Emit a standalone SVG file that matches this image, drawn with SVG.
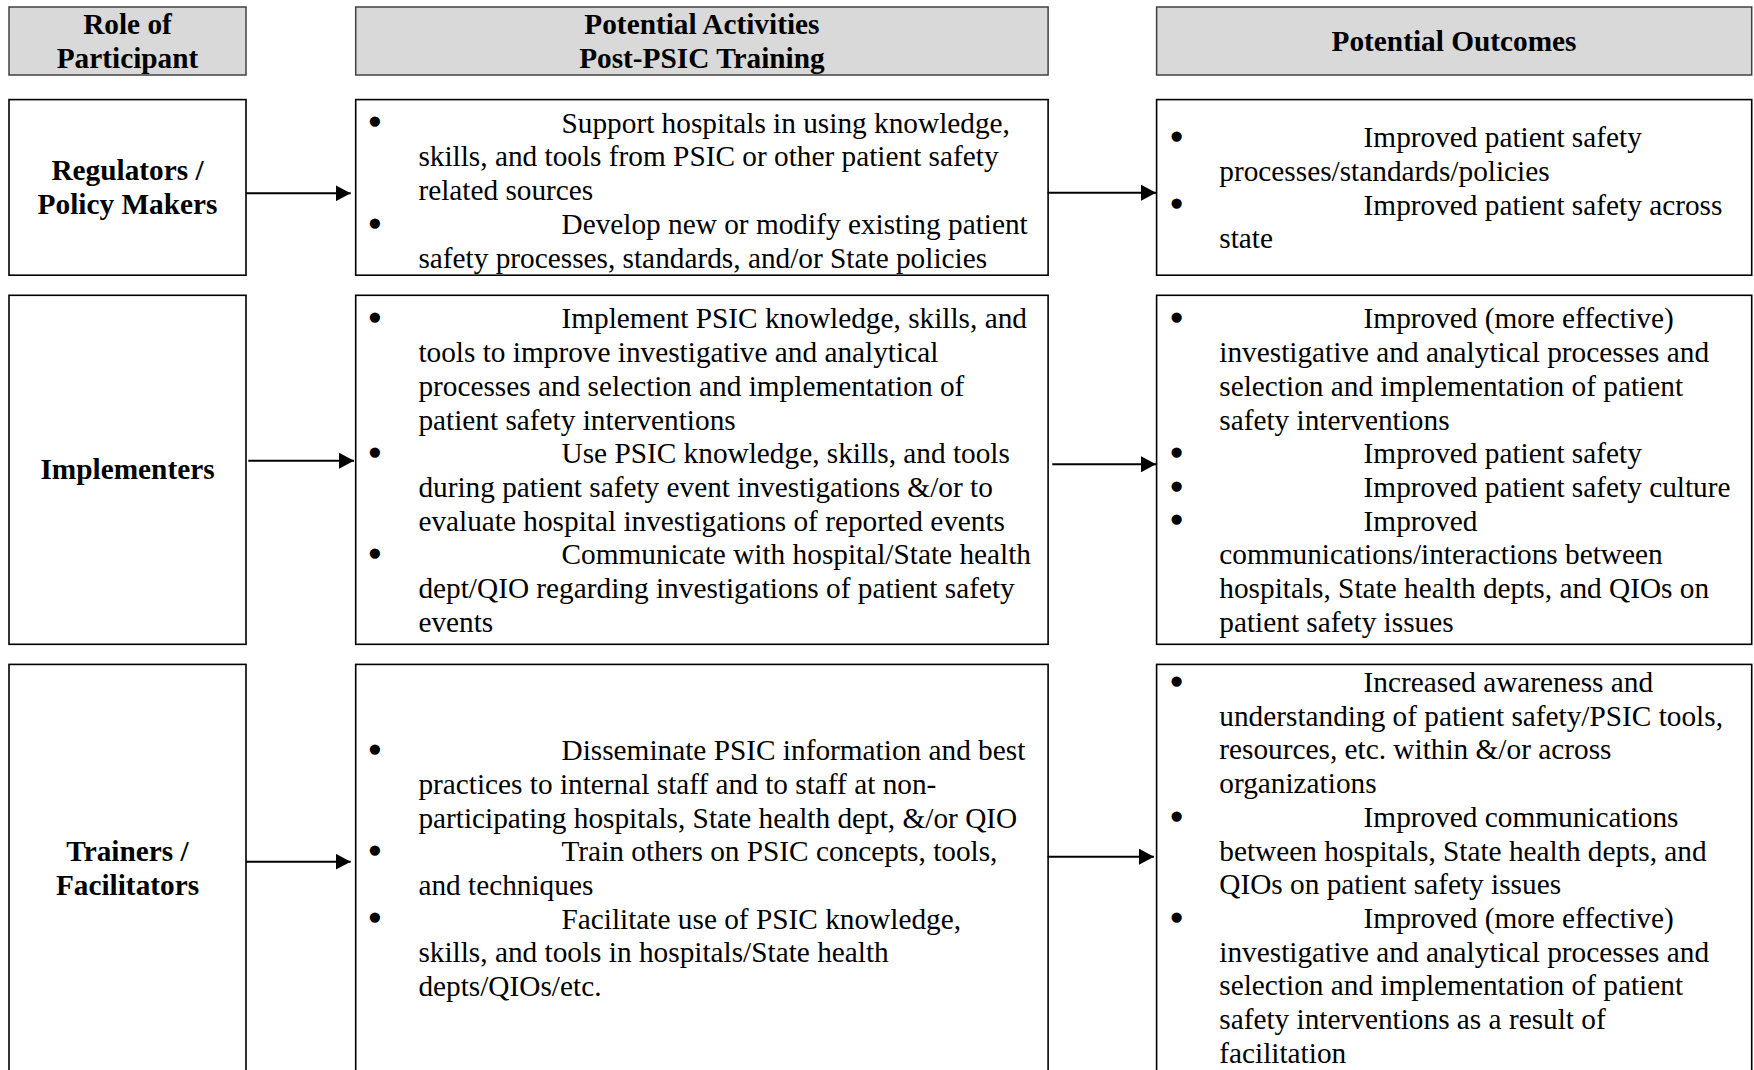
<svg xmlns="http://www.w3.org/2000/svg" width="1754" height="1070" viewBox="0 0 1754 1070">
<style>
.hdr{fill:#d9d9d9;stroke:#404040;stroke-width:1.5}
.box{fill:#fff;stroke:#000;stroke-width:1.6}
text{font-family:"Liberation Serif","Times New Roman",serif;font-size:29.3px;fill:#000}
.b{font-weight:bold}
.c{text-anchor:middle}
.bul{text-anchor:middle;stroke:#000;stroke-width:3.2;stroke-linejoin:round}
.ln{stroke:#000;stroke-width:2;fill:none}
</style>
<defs>
<marker id="ah" viewBox="0 0 15 16" refX="15" refY="8" markerWidth="15" markerHeight="16" markerUnits="userSpaceOnUse" orient="auto">
<path d="M0,0 L15,8 L0,16 z" fill="#000"/>
</marker>
</defs>
<rect width="1754" height="1070" fill="#fff"/>

<g id="header-role">
<rect class="hdr" x="9" y="7" width="237" height="68"/>
<text class="b c" x="127.5" y="34.3">Role of</text>
<text class="b c" x="127.5" y="68">Participant</text>
</g>
<g id="header-activities">
<rect class="hdr" x="355.7" y="7" width="692.4" height="68"/>
<text class="b c" x="701.9" y="34.3">Potential Activities</text>
<text class="b c" x="701.9" y="68">Post-PSIC Training</text>
</g>
<g id="header-outcomes">
<rect class="hdr" x="1156.6" y="7" width="595.1" height="68"/>
<text class="b c" x="1454" y="50.9">Potential Outcomes</text>
</g>

<g id="role-regulators">
<rect class="box" x="9" y="99.6" width="237" height="175.6"/>
<text class="b c" x="127.5" y="179.8">Regulators /</text>
<text class="b c" x="127.5" y="213.5">Policy Makers</text>
</g>
<g id="activities-regulators">
<rect class="box" x="355.7" y="99.6" width="692.4" height="175.6"/>
<text class="bul" x="375" y="132.4">•</text>
<text x="561.5" y="132.7">Support hospitals in using knowledge,</text>
<text x="418.4" y="166.4">skills, and tools from PSIC or other patient safety</text>
<text x="418.4" y="200.1">related sources</text>
<text class="bul" x="375" y="233.5">•</text>
<text x="561.5" y="233.8">Develop new or modify existing patient</text>
<text x="418.4" y="267.5">safety processes, standards, and/or State policies</text>
</g>
<g id="outcomes-regulators">
<rect class="box" x="1156.6" y="99.6" width="595.1" height="175.6"/>
<text class="bul" x="1176.7" y="146.9">•</text>
<text x="1363.6" y="147.2">Improved patient safety</text>
<text x="1219.3" y="180.9">processes/standards/policies</text>
<text class="bul" x="1176.7" y="214.3">•</text>
<text x="1363.6" y="214.6">Improved patient safety across</text>
<text x="1219.3" y="248.3">state</text>
</g>

<g id="role-implementers">
<rect class="box" x="9" y="295.3" width="237" height="349"/>
<text class="b c" x="127.5" y="479.4">Implementers</text>
</g>
<g id="activities-implementers">
<rect class="box" x="355.7" y="295.3" width="692.4" height="349"/>
<text class="bul" x="375" y="328.1">•</text>
<text x="561.5" y="328.4">Implement PSIC knowledge, skills, and</text>
<text x="418.4" y="362.1">tools to improve investigative and analytical</text>
<text x="418.4" y="395.8">processes and selection and implementation of</text>
<text x="418.4" y="429.5">patient safety interventions</text>
<text class="bul" x="375" y="462.9">•</text>
<text x="561.5" y="463.2">Use PSIC knowledge, skills, and tools</text>
<text x="418.4" y="496.9">during patient safety event investigations &amp;/or to</text>
<text x="418.4" y="530.6">evaluate hospital investigations of reported events</text>
<text class="bul" x="375" y="564">•</text>
<text x="561.5" y="564.3">Communicate with hospital/State health</text>
<text x="418.4" y="598">dept/QIO regarding investigations of patient safety</text>
<text x="418.4" y="631.7">events</text>
</g>
<g id="outcomes-implementers">
<rect class="box" x="1156.6" y="295.3" width="595.1" height="349"/>
<text class="bul" x="1176.7" y="328.1">•</text>
<text x="1363.6" y="328.4">Improved (more effective)</text>
<text x="1219.3" y="362.1">investigative and analytical processes and</text>
<text x="1219.3" y="395.8">selection and implementation of patient</text>
<text x="1219.3" y="429.5">safety interventions</text>
<text class="bul" x="1176.7" y="462.9">•</text>
<text x="1363.6" y="463.2">Improved patient safety</text>
<text class="bul" x="1176.7" y="496.6">•</text>
<text x="1363.6" y="496.9">Improved patient safety culture</text>
<text class="bul" x="1176.7" y="530.3">•</text>
<text x="1363.6" y="530.6">Improved</text>
<text x="1219.3" y="564.3">communications/interactions between</text>
<text x="1219.3" y="598">hospitals, State health depts, and QIOs on</text>
<text x="1219.3" y="631.7">patient safety issues</text>
</g>

<g id="role-trainers">
<rect class="box" x="9" y="664.4" width="237" height="420"/>
<text class="b c" x="127.5" y="860.9">Trainers /</text>
<text class="b c" x="127.5" y="894.6">Facilitators</text>
</g>
<g id="activities-trainers">
<rect class="box" x="355.7" y="664.4" width="692.4" height="420"/>
<text class="bul" x="375" y="759.9">•</text>
<text x="561.5" y="760.2">Disseminate PSIC information and best</text>
<text x="418.4" y="793.9">practices to internal staff and to staff at non-</text>
<text x="418.4" y="827.6">participating hospitals, State health dept, &amp;/or QIO</text>
<text class="bul" x="375" y="861">•</text>
<text x="561.5" y="861.3">Train others on PSIC concepts, tools,</text>
<text x="418.4" y="895">and techniques</text>
<text class="bul" x="375" y="928.4">•</text>
<text x="561.5" y="928.7">Facilitate use of PSIC knowledge,</text>
<text x="418.4" y="962.4">skills, and tools in hospitals/State health</text>
<text x="418.4" y="996.1">depts/QIOs/etc.</text>
</g>
<g id="outcomes-trainers">
<rect class="box" x="1156.6" y="664.4" width="595.1" height="420"/>
<text class="bul" x="1176.7" y="691.7">•</text>
<text x="1363.6" y="692">Increased awareness and</text>
<text x="1219.3" y="725.7">understanding of patient safety/PSIC tools,</text>
<text x="1219.3" y="759.4">resources, etc. within &amp;/or across</text>
<text x="1219.3" y="793.1">organizations</text>
<text class="bul" x="1176.7" y="826.5">•</text>
<text x="1363.6" y="826.8">Improved communications</text>
<text x="1219.3" y="860.5">between hospitals, State health depts, and</text>
<text x="1219.3" y="894.2">QIOs on patient safety issues</text>
<text class="bul" x="1176.7" y="927.6">•</text>
<text x="1363.6" y="927.9">Improved (more effective)</text>
<text x="1219.3" y="961.6">investigative and analytical processes and</text>
<text x="1219.3" y="995.3">selection and implementation of patient</text>
<text x="1219.3" y="1029">safety interventions as a result of</text>
<text x="1219.3" y="1062.7">facilitation</text>
</g>

<g id="connectors">
<line class="ln" x1="246" y1="193.3" x2="350.7" y2="193.3" marker-end="url(#ah)"/>
<line class="ln" x1="1047.7" y1="192.7" x2="1156" y2="192.7" marker-end="url(#ah)"/>
<line class="ln" x1="248.3" y1="460.7" x2="354" y2="460.7" marker-end="url(#ah)"/>
<line class="ln" x1="1052.3" y1="464.3" x2="1156" y2="464.3" marker-end="url(#ah)"/>
<line class="ln" x1="246" y1="861.7" x2="350.7" y2="861.7" marker-end="url(#ah)"/>
<line class="ln" x1="1047.7" y1="856.7" x2="1154" y2="856.7" marker-end="url(#ah)"/>
</g>
</svg>
